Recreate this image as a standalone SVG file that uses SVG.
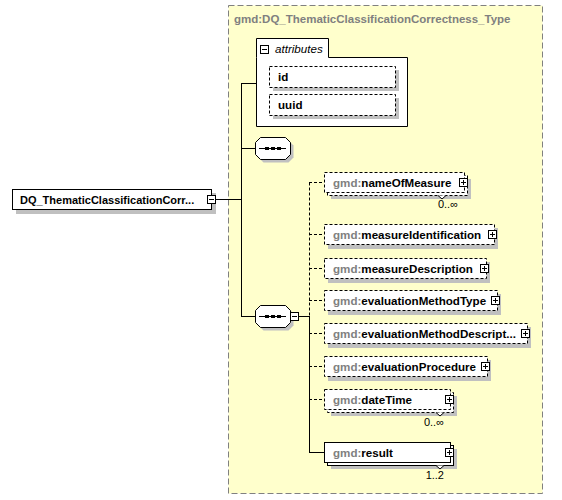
<svg xmlns="http://www.w3.org/2000/svg" xmlns:xlink="http://www.w3.org/1999/xlink" width="562" height="500" viewBox="0 0 562 500">
<style>
text{font-family:"Liberation Sans",Arial,sans-serif;font-size:11.6px}
.b{font-weight:bold}
.g{fill:#808080}
.k{fill:#000}
.s11{font-size:11px}
.t{font-size:11.5px}
.box{fill:#fff;stroke:#000;stroke-width:1}
.dbox{fill:#fff;stroke:#000;stroke-width:1;stroke-dasharray:3,2}
.sh{fill:#c0c0c0}
.ln{fill:none;stroke:#000;stroke-width:1}
.dl{fill:none;stroke:#000;stroke-width:1;stroke-dasharray:3,2}
.occ{font-size:11px;text-anchor:end;fill:#000}
</style>
<defs>
<g id="plus"><rect x="0.5" y="0.5" width="8" height="8" class="box"/><path d="M2,4.5H7M4.5,2V7" class="ln"/></g>
<g id="minus"><rect x="0.5" y="0.5" width="8" height="8" class="box"/><path d="M2,4.5H7" class="ln"/></g>
<g id="seq">
<path d="M5.5,0.5H30.5L35.5,5.5V17.5L30.5,22.5H5.5L0.5,17.5V5.5Z" class="sh" transform="translate(3,3)"/>
<path d="M5.5,0.5H30.5L35.5,5.5V17.5L30.5,22.5H5.5L0.5,17.5V5.5Z" class="box"/>
<path d="M4,11.5H31" class="ln"/>
<rect x="10" y="10" width="4" height="3" fill="#000"/><rect x="16" y="10" width="4" height="3" fill="#000"/><rect x="22" y="10" width="4" height="3" fill="#000"/>
</g>
</defs>

<g id="type">
<rect x="228.5" y="5.5" width="314" height="488" fill="#ffffcc" stroke="#808080" stroke-dasharray="6,3"/>
<text x="234" y="23" class="b g t">gmd:DQ_ThematicClassificationCorrectness_Type</text>
</g>

<g id="connectors">
<path d="M216,199.5H241.5M241.5,83V317M241,83.5H256M241,148.5H255M241,316.5H255M299,316.5H309.5M309.5,316V453M309,452.5H324" class="ln"/>
<path d="M309.5,182.5V316M309,182.5H324M309,234.5H324M309,268.5H324M309,300.5H324M309,333.5H324M309,366.5H324M309,399.5H324" class="dl"/>
</g>

<g id="root">
<rect x="16" y="193" width="200" height="21" class="sh"/>
<rect x="12.5" y="189.5" width="199" height="20" class="box"/>
<text x="20" y="203.5" class="b k s11">DQ_ThematicClassificationCorr...</text>
<use xlink:href="#minus" x="207" y="195"/>
</g>

<g id="attributes">
<path d="M256.5,57.5V38.5H328.5V57.5H407.5V126.5H256.5Z" class="box"/>
<use xlink:href="#minus" x="260" y="45"/>
<text x="275" y="53" font-style="italic" fill="#000">attributes</text>
<g id="attr-id">
<rect x="273" y="70" width="126" height="21" class="sh"/>
<rect x="269.5" y="66.5" width="126" height="21" class="dbox"/>
<text x="278" y="81" class="b k">id</text>
</g>
<g id="attr-uuid">
<rect x="273" y="98" width="126" height="21" class="sh"/>
<rect x="269.5" y="94.5" width="126" height="21" class="dbox"/>
<text x="278" y="109" class="b k">uuid</text>
</g>
</g>

<g id="seq1"><use xlink:href="#seq" x="255" y="137"/></g>
<g id="seq2"><use xlink:href="#seq" x="255" y="305"/><use xlink:href="#minus" x="290" y="312"/></g>

<g id="nameOfMeasure">
<rect x="331" y="179" width="140" height="20" class="sh"/>
<rect x="327.5" y="175.5" width="140" height="20" class="dbox"/>
<rect x="324.5" y="172.5" width="140" height="20" class="dbox"/>
<path d="M438,195.5L442,199L446,195.5" fill="#fff" stroke="#000"/>
<text x="333" y="186.5" class="b"><tspan class="g">gmd:</tspan><tspan class="k">nameOfMeasure</tspan></text>
<use xlink:href="#plus" x="459" y="178"/>
<text x="458" y="208" class="occ">0..∞</text>
</g>

<g id="measureIdentification">
<rect x="328" y="228" width="170" height="21" class="sh"/>
<rect x="324.5" y="224.5" width="170" height="20" class="dbox"/>
<text x="333" y="238.5" class="b"><tspan class="g">gmd:</tspan><tspan class="k">measureIdentification</tspan></text>
<use xlink:href="#plus" x="488" y="230"/>
</g>

<g id="measureDescription">
<rect x="328" y="262" width="162" height="21" class="sh"/>
<rect x="324.5" y="258.5" width="162" height="20" class="dbox"/>
<text x="333" y="272.5" class="b"><tspan class="g">gmd:</tspan><tspan class="k">measureDescription</tspan></text>
<use xlink:href="#plus" x="480" y="264"/>
</g>

<g id="evaluationMethodType">
<rect x="328" y="294" width="173" height="21" class="sh"/>
<rect x="324.5" y="290.5" width="173" height="20" class="dbox"/>
<text x="333" y="304.5" class="b"><tspan class="g">gmd:</tspan><tspan class="k">evaluationMethodType</tspan></text>
<use xlink:href="#plus" x="491" y="296"/>
</g>

<g id="evaluationMethodDescription">
<rect x="328" y="327" width="203" height="21" class="sh"/>
<rect x="324.5" y="323.5" width="203" height="20" class="dbox"/>
<text x="333" y="337.5" class="b"><tspan class="g">gmd:</tspan><tspan class="k">evaluationMethodDescript...</tspan></text>
<use xlink:href="#plus" x="521" y="329"/>
</g>

<g id="evaluationProcedure">
<rect x="328" y="360" width="163" height="21" class="sh"/>
<rect x="324.5" y="356.5" width="163" height="20" class="dbox"/>
<text x="333" y="370.5" class="b"><tspan class="g">gmd:</tspan><tspan class="k">evaluationProcedure</tspan></text>
<use xlink:href="#plus" x="481" y="362"/>
</g>

<g id="dateTime">
<rect x="331" y="396" width="126" height="20" class="sh"/>
<rect x="327.5" y="392.5" width="126" height="20" class="dbox"/>
<rect x="324.5" y="389.5" width="126" height="20" class="dbox"/>
<path d="M436,412.5L440,416L444,412.5" fill="#fff" stroke="#000"/>
<text x="333" y="403.5" class="b"><tspan class="g">gmd:</tspan><tspan class="k">dateTime</tspan></text>
<use xlink:href="#plus" x="445" y="395"/>
<text x="444" y="426" class="occ">0..∞</text>
</g>

<g id="result">
<rect x="331" y="449" width="126" height="20" class="sh"/>
<rect x="327.5" y="445.5" width="126" height="20" class="box"/>
<rect x="324.5" y="442.5" width="126" height="20" class="box"/>
<path d="M436,465.5L440,469L444,465.5" fill="#fff" stroke="#000"/>
<text x="333" y="456.5" class="b"><tspan class="g">gmd:</tspan><tspan class="k">result</tspan></text>
<use xlink:href="#plus" x="445" y="448"/>
<text x="444" y="479" class="occ">1..2</text>
</g>
</svg>
